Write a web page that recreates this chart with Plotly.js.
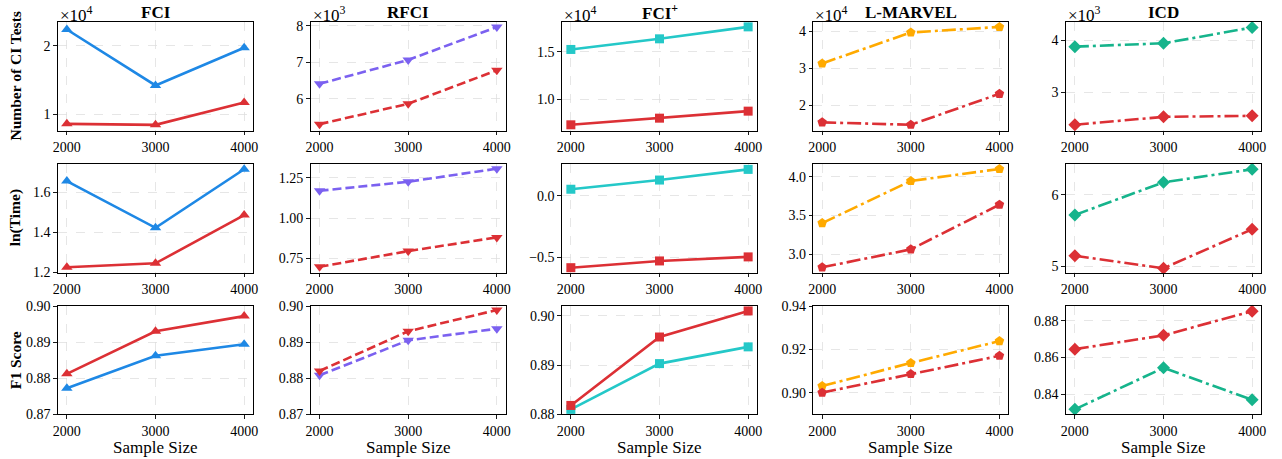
<!DOCTYPE html>
<html>
<head>
<meta charset="utf-8">
<script src="https://cdn.plot.ly/plotly-3.0.1.min.js"></script>
<style>html,body{margin:0;padding:0;background:#fff;} #chart{width:1282px;height:459px;}</style>
</head>
<body>
<div id="chart"></div>
<script>
// ---------------- DATA ----------------
const sampleSizes = [2000, 3000, 4000];
const xTickLabels = ['2000', '3000', '4000'];

const methods = ['FCI', 'RFCI', 'FCI<sup>+</sup>', 'L-MARVEL', 'ICD'];
const rowLabels = ['Number of CI Tests', 'ln(Time)', 'F1 Score'];
const offsetLabels = ['×10<sup>4</sup>', '×10<sup>3</sup>', '×10<sup>4</sup>', '×10<sup>4</sup>', '×10<sup>3</sup>'];

// Number of CI tests (baseline method, red variant)
const fciTestsBase = [22350, 14200, 19700];
const fciTestsRed = [8600, 8450, 11700];
const rfciTestsBase = [6410, 7065, 7970];
const rfciTestsRed = [5300, 5860, 6780];
const fciPlusTestsBase = [15240, 16360, 17620];
const fciPlusTestsRed = [7300, 8000, 8740];
const lmarvelTestsBase = [31300, 39650, 41150];
const lmarvelTestsRed = [15400, 14750, 23100];
const icdTestsBase = [3873, 3937, 4240];
const icdTestsRed = [2374, 2526, 2545];

// ln(Time)
const fciTimeBase = [1.658, 1.423, 1.717];
const fciTimeRed = [1.225, 1.245, 1.487];
const rfciTimeBase = [1.169, 1.225, 1.306];
const rfciTimeRed = [0.698, 0.795, 0.880];
const fciPlusTimeBase = [0.055, 0.130, 0.217];
const fciPlusTimeRed = [-0.585, -0.530, -0.497];
const lmarvelTimeBase = [3.402, 3.945, 4.100];
const lmarvelTimeRed = [2.832, 3.064, 3.640];
const icdTimeBase = [5.715, 6.174, 6.356];
const icdTimeRed = [5.144, 4.968, 5.515];

// F1 score
const fciF1Base = [0.8772, 0.8862, 0.8894];
const fciF1Red = [0.8812, 0.8930, 0.8972];
const rfciF1Base = [0.8808, 0.8905, 0.8937];
const rfciF1Red = [0.8820, 0.8930, 0.8989];
const fciPlusF1Base = [0.8810, 0.8903, 0.8937];
const fciPlusF1Red = [0.8818, 0.8957, 0.9010];
const lmarvelF1Base = [0.9031, 0.9137, 0.9238];
const lmarvelF1Red = [0.9000, 0.9086, 0.9170];
const icdF1Base = [0.8317, 0.8543, 0.8369];
const icdF1Red = [0.8645, 0.8720, 0.8852];

// y tick values / labels
const yTickVals = [
  [[10000, 20000], [6000, 7000, 8000], [10000, 15000], [20000, 30000, 40000], [3000, 4000]],
  [[1.2, 1.4, 1.6], [0.75, 1.00, 1.25], [-0.5, 0.0], [3.0, 3.5, 4.0], [5, 6]],
  [[0.87, 0.88, 0.89, 0.90], [0.87, 0.88, 0.89, 0.90], [0.88, 0.89, 0.90], [0.90, 0.92, 0.94], [0.84, 0.86, 0.88]]
];
const yTickLabels = [
  [['1', '2'], ['6', '7', '8'], ['1.0', '1.5'], ['2', '3', '4'], ['3', '4']],
  [['1.2', '1.4', '1.6'], ['0.75', '1.00', '1.25'], ['\u22120.5', '0.0'], ['3.0', '3.5', '4.0'], ['5', '6']],
  [['0.87', '0.88', '0.89', '0.90'], ['0.87', '0.88', '0.89', '0.90'], ['0.88', '0.89', '0.90'], ['0.90', '0.92', '0.94'], ['0.84', '0.86', '0.88']]
];
const yRanges = [
  [[7600, 23400], [5120, 8100], [6680, 18100], [13150, 42400], [2260, 4340]],
  [[1.198, 1.7435], [0.661, 1.335], [-0.626, 0.261], [2.763, 4.164], [4.906, 6.43]],
  [[0.87, 0.90], [0.87, 0.90], [0.88, 0.902], [0.89, 0.94], [0.829, 0.888]]
];

const seriesGrid = [
  [[fciTestsBase, fciTestsRed], [rfciTestsBase, rfciTestsRed], [fciPlusTestsBase, fciPlusTestsRed], [lmarvelTestsBase, lmarvelTestsRed], [icdTestsBase, icdTestsRed]],
  [[fciTimeBase, fciTimeRed], [rfciTimeBase, rfciTimeRed], [fciPlusTimeBase, fciPlusTimeRed], [lmarvelTimeBase, lmarvelTimeRed], [icdTimeBase, icdTimeRed]],
  [[fciF1Base, fciF1Red], [rfciF1Base, rfciF1Red], [fciPlusF1Base, fciPlusF1Red], [lmarvelF1Base, lmarvelF1Red], [icdF1Base, icdF1Red]]
];

// ---------------- STYLE ----------------
const W = 1282, H = 459;
const FONT = '"Liberation Serif", "Times New Roman", serif';
const RED = '#DC3035';
const colStyle = [
  {color: '#1E88E5', symbol: 'triangle-up', size: 10, dash: 'solid'},
  {color: '#7B61F0', symbol: 'triangle-down', size: 10, dash: '9px,4px'},
  {color: '#24C8C8', symbol: 'square', size: 9, dash: 'solid'},
  {color: '#FFAA00', symbol: 'pentagon', size: 10, dash: '14px,4px,3px,4px'},
  {color: '#16B48C', symbol: 'diamond', size: 10, dash: '14px,4px,3px,4px'}
];
const colLeft = [58, 310.7, 562, 813.3, 1066];
const plotW = 195;
const rowTop = [22.3, 164, 306];
const rowBot = [130.7, 272.7, 414.3];

const traces = [];
const layout = {
  width: W, height: H,
  margin: {l: 0, r: 0, t: 0, b: 0, pad: 0},
  paper_bgcolor: '#fff', plot_bgcolor: '#fff',
  showlegend: false,
  font: {family: FONT, size: 14, color: '#000'},
  annotations: []
};

let idx = 0;
for (let r = 0; r < 3; r++) {
  for (let c = 0; c < 5; c++) {
    idx++;
    const xa = idx === 1 ? 'xaxis' : 'xaxis' + idx;
    const ya = idx === 1 ? 'yaxis' : 'yaxis' + idx;
    const xr = idx === 1 ? 'x' : 'x' + idx;
    const yr = idx === 1 ? 'y' : 'y' + idx;
    const st = colStyle[c];
    const [base, red] = seriesGrid[r][c];
    const order = [[base, st.color], [red, RED]];
    order.forEach(([vals, color]) => {
      traces.push({
        type: 'scatter', mode: 'lines+markers',
        x: sampleSizes, y: vals, xaxis: xr, yaxis: yr,
        line: {color: color, width: 2.6, dash: st.dash},
        marker: {color: color, symbol: st.symbol, size: st.size, line: {width: 0}},
        cliponaxis: false, hoverinfo: 'skip'
      });
    });
    const axCommon = {
      showline: true, linecolor: '#000', linewidth: 1.1, mirror: true,
      ticks: 'outside', ticklen: 3.5, tickwidth: 0.9, tickcolor: '#000',
      showgrid: true, gridcolor: '#dcdcdc', gridwidth: 0.7, griddash: 'dash',
      zeroline: false, tickfont: {family: FONT, size: 14, color: '#000'},
      fixedrange: true
    };
    layout[xa] = Object.assign({}, axCommon, {
      domain: [colLeft[c] / W, (colLeft[c] + plotW) / W],
      anchor: yr, range: [1900, 4100], tickmode: 'array',
      tickvals: sampleSizes, ticktext: xTickLabels
    });
    layout[ya] = Object.assign({}, axCommon, {
      domain: [1 - rowBot[r] / H, 1 - rowTop[r] / H],
      anchor: xr, range: yRanges[r][c], tickmode: 'array',
      tickvals: yTickVals[r][c], ticktext: yTickLabels[r][c]
    });
  }
}

// column titles, offset texts, x labels
for (let c = 0; c < 5; c++) {
  layout.annotations.push({
    xref: 'paper', yref: 'paper', x: (colLeft[c] + plotW / 2) / W, y: 1 - 12.5 / H,
    xanchor: 'center', yanchor: 'middle', showarrow: false,
    text: '<b>' + methods[c] + '</b>', font: {family: FONT, size: 17, color: '#000'}
  });
  layout.annotations.push({
    xref: 'paper', yref: 'paper', x: (colLeft[c] + 1) / W, y: 1 - 2 / H,
    xanchor: 'left', yanchor: 'top', showarrow: false, borderpad: 0,
    text: offsetLabels[c], font: {family: FONT, size: 17, color: '#000'}
  });
  layout.annotations.push({
    xref: 'paper', yref: 'paper', x: (colLeft[c] + plotW / 2) / W, y: 1 - 447 / H,
    xanchor: 'center', yanchor: 'middle', showarrow: false,
    text: 'Sample Size', font: {family: FONT, size: 17, color: '#000'}
  });
}
// row labels
for (let r = 0; r < 3; r++) {
  layout.annotations.push({
    xref: 'paper', yref: 'paper', x: 15 / W, y: 1 - ((rowTop[r] + rowBot[r]) / 2) / H,
    xanchor: 'center', yanchor: 'middle', showarrow: false, textangle: -90,
    text: '<b>' + rowLabels[r] + '</b>', font: {family: FONT, size: 15.5, color: '#000'}
  });
}

Plotly.newPlot('chart', traces, layout, {staticPlot: true, displayModeBar: false});
</script>
</body>
</html>
